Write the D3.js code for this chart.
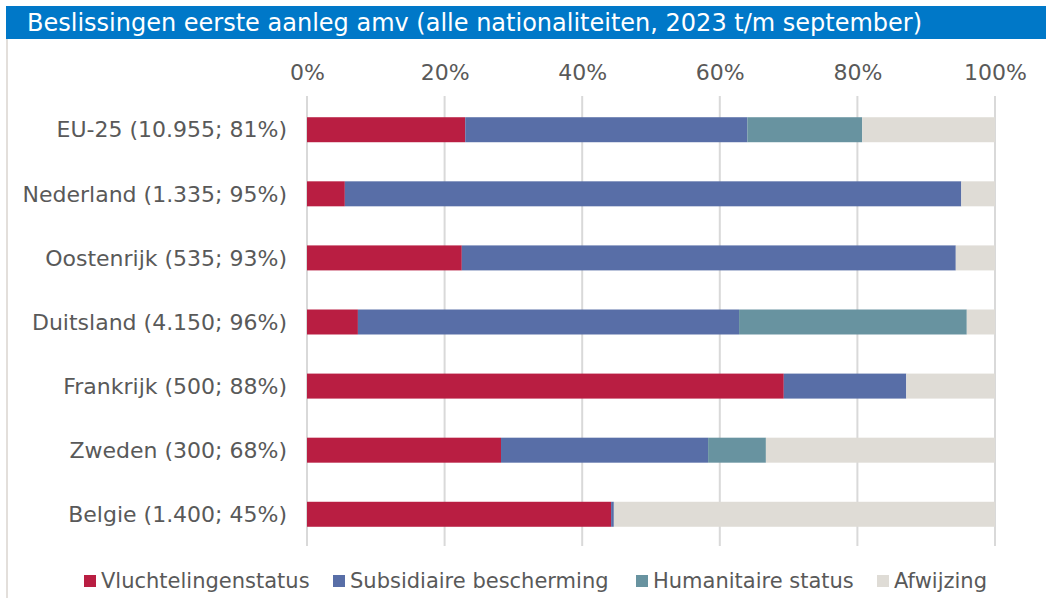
<!DOCTYPE html>
<html><head><meta charset="utf-8">
<script src="https://cdn.jsdelivr.net/npm/d3@7"></script>
<style>body{margin:0;background:#fff;}svg{display:block;font-family:"DejaVu Sans",Verdana,sans-serif;}</style>
</head><body>
<svg id="c" width="1050" height="598"></svg>
<script>
const categories = ["EU-25 (10.955; 81%)","Nederland (1.335; 95%)","Oostenrijk (535; 93%)","Duitsland (4.150; 96%)","Frankrijk (500; 88%)","Zweden (300; 68%)","Belgie (1.400; 45%)"];
const seriesNames = ["Vluchtelingenstatus","Subsidiaire bescherming","Humanitaire status","Afwijzing"];
const vluchteling = [23.0, 5.5, 22.5, 7.4, 69.3, 28.2, 44.2];
const subsidiair  = [41.0, 89.6, 71.8, 55.4, 17.8, 30.1, 0.4];
const humanitair  = [16.7, 0.0, 0.0, 33.1, 0.0, 8.4, 0.0];
const afwijzing   = [19.3, 4.9, 5.7, 4.1, 12.9, 33.3, 55.4];
const tickValues = [0, 20, 40, 60, 80, 100];
const colors = ["#b91e42","#586ea7","#6893a0","#dfdcd6"];
const title = "Beslissingen eerste aanleg amv (alle nationaliteiten, 2023 t/m september)";

const svg = d3.select("#c");
svg.append("rect").attr("x",6).attr("y",6).attr("width",1040).attr("height",33).attr("fill","#0078c8");
svg.append("text").attr("x",27).attr("y",31).attr("fill","#fff").attr("font-size",24).text(title);
svg.append("line").attr("x1",7).attr("x2",7).attr("y1",39).attr("y2",598).attr("stroke","#e3dfdb").attr("stroke-width",2);

const data = categories.map((c,i)=>({cat:c, Vluchtelingenstatus:vluchteling[i], "Subsidiaire bescherming":subsidiair[i], "Humanitaire status":humanitair[i], Afwijzing:afwijzing[i]}));
const stacked = d3.stack().keys(seriesNames)(data);

const x = d3.scaleLinear().domain([0,100]).range([307,995]);
const y = d3.scaleBand().domain(categories).range([98,546]).paddingInner(0.61).paddingOuter(0.3);

svg.append("g").selectAll("line").data(tickValues).join("line")
  .attr("x1",d=>x(d)).attr("x2",d=>x(d)).attr("y1",96).attr("y2",546)
  .attr("stroke","#d9d9d9").attr("stroke-width",2);

const ax = svg.append("g").attr("transform","translate(0,80)")
  .call(d3.axisTop(x).tickValues(tickValues).tickFormat(d=>d+"%").tickSize(0).tickPadding(0));
ax.select(".domain").remove();
ax.selectAll("text").attr("font-size",22).attr("fill","#595959").attr("font-family","DejaVu Sans, Verdana, sans-serif");

svg.append("g").selectAll("g").data(stacked).join("g").attr("fill",(d,i)=>colors[i])
  .selectAll("rect").data(d=>d).join("rect")
  .attr("x",d=>x(d[0])).attr("width",d=>Math.max(0,x(d[1])-x(d[0])))
  .attr("y",d=>y(d.data.cat)).attr("height",y.bandwidth());

const ay = svg.append("g").attr("transform","translate(287,0)")
  .call(d3.axisLeft(y).tickSize(0).tickPadding(0));
ay.select(".domain").remove();
ay.selectAll("text").attr("font-size",22).attr("fill","#595959").attr("font-family","DejaVu Sans, Verdana, sans-serif").attr("dy","0.35em");

const legX = [84, 333, 636, 877];
const lg = svg.append("g").selectAll("g").data(seriesNames).join("g")
  .attr("transform",(d,i)=>`translate(${legX[i]},575)`);
lg.append("rect").attr("width",12).attr("height",12).attr("fill",(d,i)=>colors[i]);
lg.append("text").attr("x",17).attr("y",13).attr("font-size",21).attr("fill","#595959").text(d=>d);
</script>
</body></html>
